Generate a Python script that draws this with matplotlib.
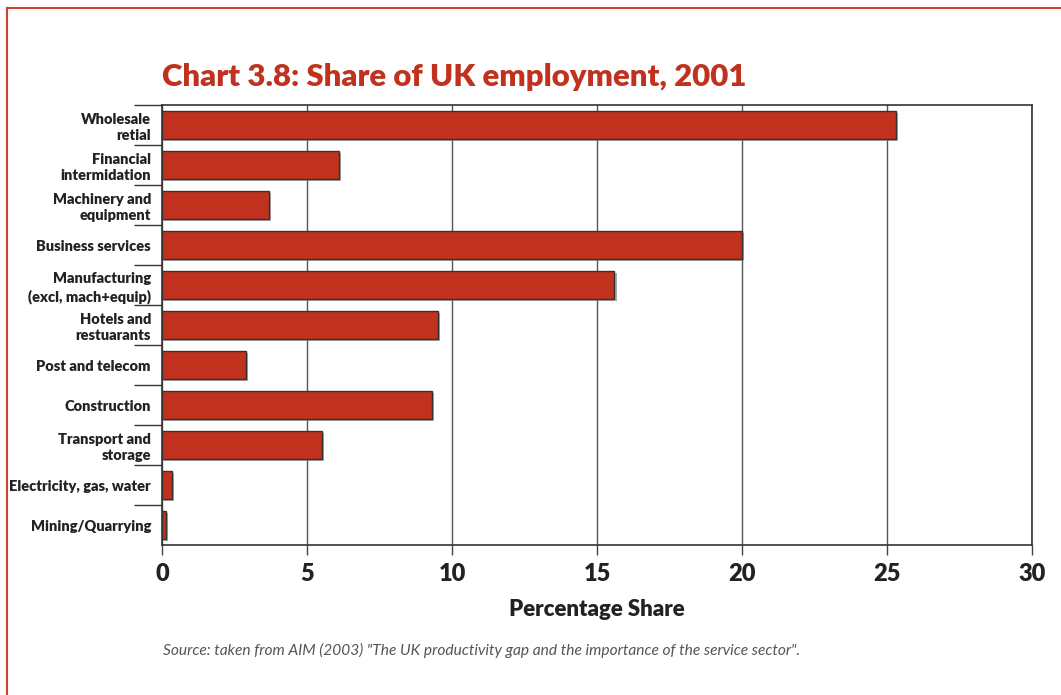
import matplotlib.pyplot as plt
import matplotlib.patheffects as pe
from matplotlib.lines import Line2D
import numpy as np

# Sectors, top to bottom as in the chart
sectors = [
    "Wholesale\nretial",
    "Financial\nintermidation",
    "Machinery and\nequipment",
    "Business services",
    "Manufacturing\n(excl, mach+equip)",
    "Hotels and\nrestuarants",
    "Post and telecom",
    "Construction",
    "Transport and\nstorage",
    "Electricity, gas, water",
    "Mining/Quarrying",
]
share = [25.3, 6.1, 3.7, 20.0, 15.6, 9.5, 2.9, 9.3, 5.5, 0.35, 0.15]
xticks = [0, 5, 10, 15, 20, 25, 30]

red = "#C0311E"
dark = "#222222"
plt.rcParams['font.family'] = ['Lato', 'DejaVu Sans']

fig = plt.figure(figsize=(10.61, 6.95), dpi=100)
ax = fig.add_axes([0.1527, 0.2158, 0.82, 0.6331])

y = np.arange(len(sectors))
bars = ax.barh(y, share, height=0.7, color=red, edgecolor="#333333", linewidth=1.0, zorder=3)
for b in bars:
    b.set_path_effects([pe.SimplePatchShadow(offset=(1.5, -1.5), shadow_rgbFace="#888888", alpha=0.7),
                        pe.Normal()])

ax.set_xlim(0, 30)
ax.set_ylim(len(sectors) - 0.5, -0.5)
ax.set_xticks(xticks)
ax.set_xticklabels([str(t) for t in xticks], fontsize=17, fontweight="heavy", color=dark)
ax.tick_params(axis="x", length=7, width=1, color="#444444", pad=6)

ax.set_yticks(y)
ax.set_yticklabels(sectors, fontsize=10.5, fontweight="heavy", color=dark, linespacing=1.3)
ax.tick_params(axis="y", which="major", length=0, pad=8)
ax.set_yticks(np.arange(-0.5, len(sectors) - 1), minor=True)
ax.tick_params(axis="y", which="minor", length=20, width=1, color="#333333")

ax.grid(axis="x", color="#555555", linewidth=1, zorder=0)
for s in ax.spines.values():
    s.set_color("#333333")
    s.set_linewidth(1.2)

ax.set_xlabel("Percentage Share", fontsize=16, fontweight="heavy", color=dark, labelpad=10)

fig.text(0.1527, 0.876, "Chart 3.8: Share of UK employment, 2001", fontsize=22.4,
         fontweight="heavy", color=red, ha="left", va="baseline")
fig.text(0.1537, 0.058, "Source: taken from AIM (2003) \"The UK productivity gap and the importance of the service sector\".",
         fontsize=11.2, style="italic", color="#555555", ha="left", va="baseline")

# red frame on left and top
fig.add_artist(Line2D([0.0066, 0.0066], [0, 0.9885], transform=fig.transFigure, color="#D0402E", linewidth=1.5))
fig.add_artist(Line2D([0.0066, 1.0], [0.9885, 0.9885], transform=fig.transFigure, color="#D0402E", linewidth=1.5))

fig.savefig("out.png", dpi=100)
